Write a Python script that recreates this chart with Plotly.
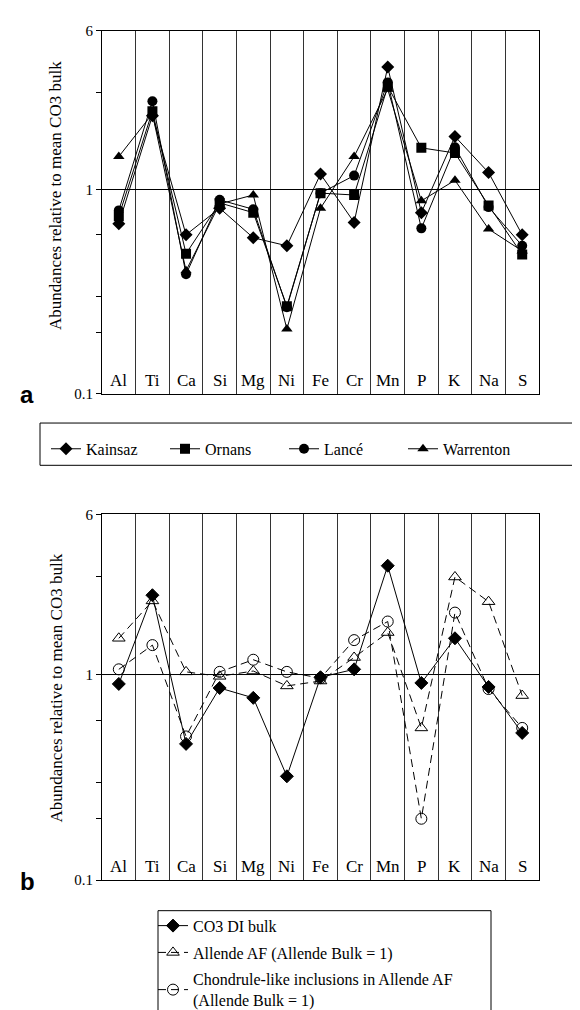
import plotly.graph_objects as go

elements = ["Al", "Ti", "Ca", "Si", "Mg", "Ni", "Fe", "Cr", "Mn", "P", "K", "Na", "S"]

# Panel a
kainsaz   = [0.68, 2.30, 0.60, 0.81, 0.58, 0.53, 1.19, 0.69, 3.99, 0.77, 1.82, 1.21, 0.60]
ornans    = [0.74, 2.42, 0.485, 0.86, 0.77, 0.268, 0.96, 0.94, 3.20, 1.60, 1.51, 0.836, 0.48]
lance     = [0.79, 2.71, 0.384, 0.89, 0.80, 0.265, 0.96, 1.17, 3.35, 0.645, 1.61, 0.82, 0.53]
warrenton = [1.45, 2.35, 0.40, 0.85, 0.94, 0.207, 0.81, 1.45, 3.10, 0.88, 1.11, 0.64, 0.50]

# Panel b
co3_di     = [0.90, 2.43, 0.46, 0.86, 0.77, 0.32, 0.97, 1.06, 3.38, 0.91, 1.50, 0.87, 0.52]
allende_af = [1.50, 2.28, 1.03, 0.98, 1.04, 0.88, 0.93, 1.21, 1.60, 0.55, 2.98, 2.26, 0.79]
chondrule  = [1.06, 1.39, 0.50, 1.03, 1.18, 1.03, 0.96, 1.47, 1.81, 0.199, 2.00, 0.85, 0.55]

y_ticks = [0.1, 0.2, 0.3, 0.6, 1, 3, 6]
y_ticktext = ["0.1", "", "", "", "1", "", "6"]

xs = list(range(len(elements)))
SERIF = "Liberation Serif"
W, H = 580, 1010

fig = go.Figure()

series_a = [
    ("Kainsaz", kainsaz, "diamond", 10),
    ("Ornans", ornans, "square", 10),
    ("Lancé", lance, "circle", 10),
    ("Warrenton", warrenton, "triangle-up", 10),
]
for name, vals, sym, sz in series_a:
    fig.add_trace(go.Scatter(
        x=xs, y=vals, name=name, mode="lines+markers",
        line=dict(color="black", width=1),
        marker=dict(symbol=sym, size=sz, color="black"),
        xaxis="x", yaxis="y", legend="legend"))

series_b = [
    ("CO3 DI bulk", co3_di, "diamond", 10, "solid"),
    ("Allende AF (Allende Bulk = 1)", allende_af, "triangle-up-open", 11, "8px,5px"),
    ("Chondrule-like inclusions in Allende AF<br>(Allende Bulk = 1)", chondrule, "circle-open", 11, "8px,5px"),
]
for k, (name, vals, sym, sz, dash) in enumerate(series_b):
    fig.add_trace(go.Scatter(
        x=xs, y=vals, name=name, mode="lines+markers", legendgroup=f"g{k}",
        line=dict(color="black", width=1, dash=dash),
        marker=dict(symbol=sym, size=sz, color="black", line=dict(color="black", width=1)),
        xaxis="x2", yaxis="y2", legend="legend2"))

xdom = [94 / W, 531 / W]
ydom_a = [1 - 384 / H, 1 - 15 / H]
ydom_b = [1 - 879 / H, 1 - 507 / H]

xax = dict(range=[-0.5, len(elements) - 0.5], tickvals=[i + 0.5 for i in range(len(elements) - 1)],
           showticklabels=False, ticks="", showgrid=True, gridcolor="#333", gridwidth=1,
           showline=True, linecolor="black", linewidth=1, mirror=True, zeroline=False,
           domain=xdom, fixedrange=True)
yax = dict(type="log", range=[-1, 0.778151], tickvals=y_ticks, ticktext=y_ticktext,
           ticks="outside", ticklen=5, tickcolor="black", showgrid=False,
           showline=True, linecolor="black", linewidth=1, mirror=True,
           tickfont=dict(family=SERIF, size=15, color="black"))

fig.update_layout(
    width=W, height=H, margin=dict(l=0, r=0, t=0, b=0),
    paper_bgcolor="white", plot_bgcolor="white",
    font=dict(family=SERIF, size=16, color="black"),
    xaxis=dict(**xax, anchor="y"),
    yaxis=dict(**yax, domain=ydom_a, anchor="x"),
    xaxis2=dict(**xax, anchor="y2"),
    yaxis2=dict(**yax, domain=ydom_b, anchor="x2"),
    legend=dict(orientation="h", x=38 / W, y=1 - 423 / H, xanchor="left", yanchor="top",
                borderwidth=0, entrywidth=74, bgcolor="rgba(0,0,0,0)",
                font=dict(family=SERIF, size=16, color="black")),
    legend2=dict(orientation="v", x=145 / W, y=1 - 908 / H, xanchor="left", yanchor="top",
                 borderwidth=0, tracegroupgap=3, bgcolor="rgba(0,0,0,0)",
                 font=dict(family=SERIF, size=16, color="black")),
    showlegend=True,
)

# legend boxes
fig.add_shape(type="rect", xref="paper", yref="paper", x0=32 / W, x1=1.01,
              y0=1 - 457 / H, y1=1 - 414 / H, line=dict(color="black", width=1), layer="below")
fig.add_shape(type="rect", xref="paper", yref="paper", x0=150 / W, x1=483 / W,
              y0=-0.01, y1=1 - 910 / H, line=dict(color="black", width=1), layer="below")

# horizontal line at 1
for yref in ["y", "y2"]:
    xr = "x domain" if yref == "y" else "x2 domain"
    fig.add_shape(type="line", xref=xr, yref=yref, x0=0, x1=1, y0=1, y1=1,
                  line=dict(color="black", width=1))

# category labels inside plot bottom
for xr, yr in [("x", "y domain"), ("x2", "y2 domain")]:
    for i, el in enumerate(elements):
        fig.add_annotation(x=i, y=0.005, xref=xr, yref=yr, text=el, showarrow=False,
                           yanchor="bottom", font=dict(family=SERIF, size=17, color="black"))

# axis titles
for yc in [183, 684]:
    fig.add_annotation(x=48 / W, y=1 - yc / H, xref="paper", yref="paper",
                       xanchor="center", yanchor="middle",
                       text="Abundances relative to mean CO3 bulk", textangle=-90,
                       showarrow=False, font=dict(family=SERIF, size=17, color="black"))

# panel letters
for lbl, yc in [("a", 385), ("b", 880)]:
    fig.add_annotation(x=19 / W, y=1 - yc / H, xref="paper", yref="paper", text=f"<b>{lbl}</b>",
                       xanchor="center", yanchor="middle",
                       showarrow=False, font=dict(family="Liberation Sans", size=24, color="black"))

fig.write_html("out.html")
